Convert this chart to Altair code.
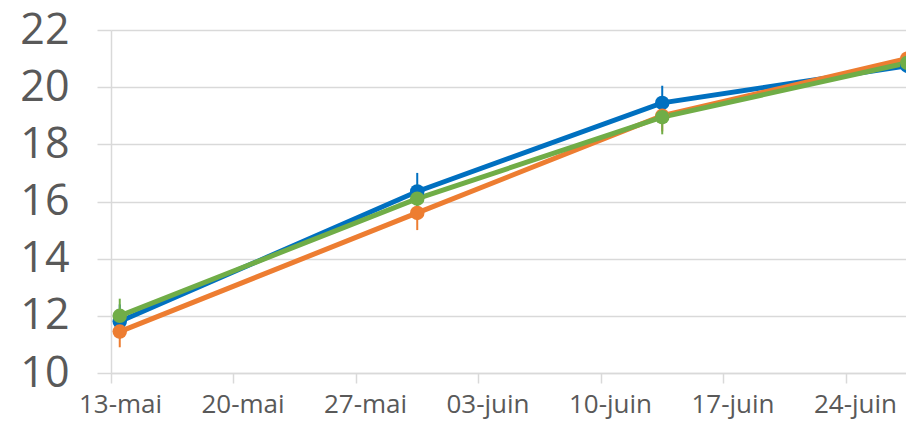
import altair as alt
import pandas as pd

# --- data -------------------------------------------------------------
dates = ["2019-05-13", "2019-05-30", "2019-06-13", "2019-06-27"]
series_names = ["Série 1", "Série 2", "Série 3"]
series_colors = ["#0070C0", "#ED7D31", "#70AD47"]

blue = [11.8, 16.35, 19.45, 20.75]
blue_err = [0.6, 0.65, 0.6, 0.6]
orange = [11.45, 15.6, 19.0, 21.0]
orange_err = [0.55, 0.6, 0.55, 0.6]
green = [12.0, 16.1, 18.95, 20.85]
green_err = [0.6, 0.5, 0.6, 0.6]

tick_labels = ["13-mai", "20-mai", "27-mai", "03-juin", "10-juin", "17-juin", "24-juin"]
y_ticks = [10, 12, 14, 16, 18, 20, 22]

# --- table ------------------------------------------------------------
start = pd.Timestamp(dates[0])
rows = []
for name, vals, errs in zip(series_names, [blue, orange, green], [blue_err, orange_err, green_err]):
    for d, v, e in zip(dates, vals, errs):
        rows.append({
            "serie": name,
            "jour": (pd.Timestamp(d) - start).days,
            "valeur": v,
            "bas": v - e,
            "haut": v + e,
        })
df = pd.DataFrame(rows)

order_map = {n: i for i, n in enumerate(series_names)}
df["ordre"] = df["serie"].map(order_map)

tick_vals = [-0.5 + 7 * k for k in range(len(tick_labels))]
label_js = "[" + ",".join("'" + t + "'" for t in tick_labels) + "]"

grid_col = "#d9d9d9"
text_col = "#595959"
font = "Open Sans"

x_enc = alt.X(
    "jour:Q",
    scale=alt.Scale(domain=[-0.5, 44.93], nice=False, zero=False),
    axis=alt.Axis(
        values=tick_vals,
        labelExpr=label_js + "[round((datum.value + 0.5) / 7)]",
        labelOffset=9,
        title=None,
        grid=False,
        domainColor=grid_col,
        domainWidth=1.5,
        tickColor=grid_col,
        tickWidth=1.5,
        tickSize=10,
        labelFontSize=26,
        labelFont=font,
        labelColor=text_col,
        labelPadding=8,
        labelFlush=False,
        labelOverlap=False,
    ),
)
y_enc = alt.Y(
    "valeur:Q",
    scale=alt.Scale(domain=[10, 22], nice=False, zero=False),
    axis=alt.Axis(
        values=y_ticks,
        title=None,
        grid=True,
        gridColor=grid_col,
        gridWidth=1.5,
        domainColor=grid_col,
        domainWidth=1.5,
        tickColor=grid_col,
        tickWidth=1.5,
        tickSize=14,
        labelFontSize=43,
        labelFont=font,
        labelColor=text_col,
        labelPadding=28,
        labelFlush=False,
    ),
)
color_enc = alt.Color(
    "serie:N",
    scale=alt.Scale(domain=series_names, range=series_colors),
    legend=None,
)

base = alt.Chart(df)

err = base.mark_rule(strokeWidth=2).encode(
    x=x_enc, y=alt.Y("bas:Q"), y2="haut:Q", color=color_enc
)
lines = base.mark_line(strokeWidth=5).encode(
    x=x_enc, y=y_enc, color=color_enc, order="jour:Q",
    detail="serie:N",
)
points = base.mark_circle(size=210, opacity=1).encode(
    x=x_enc, y=y_enc, color=color_enc, order="ordre:Q"
)

chart = (
    alt.layer(err, lines, points)
    .properties(
        width=795,
        height=343,
        padding={"left": 103, "top": 22, "right": 0, "bottom": 50},
        autosize=alt.AutoSizeParams(type="none"),
        background="white",
    )
    .configure_view(stroke=None)
)

chart.save("out.html", embed_options={"renderer": "svg", "actions": False})
